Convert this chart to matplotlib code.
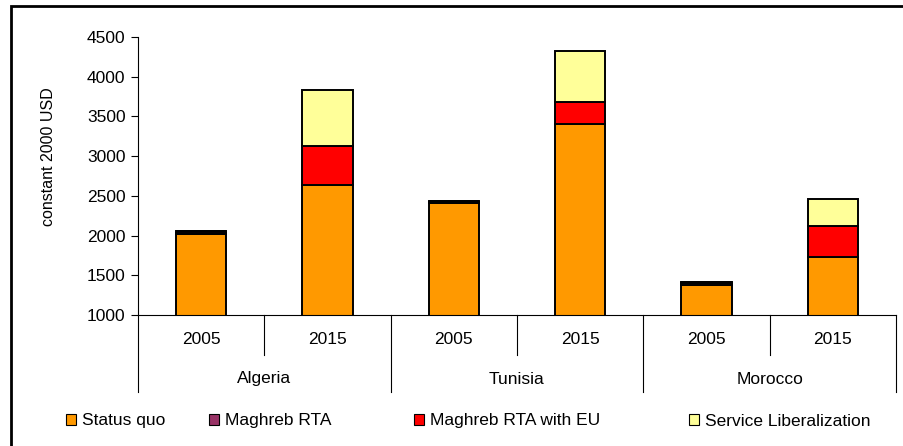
import matplotlib.pyplot as plt
import matplotlib.transforms as mtransforms
from matplotlib.patches import Rectangle, Patch
import numpy as np

plt.rcParams['font.family'] = ['Liberation Sans', 'DejaVu Sans']

countries = ['Algeria', 'Tunisia', 'Morocco']
years = ['2005', '2015', '2005', '2015', '2005', '2015']
series = ['Status quo', 'Maghreb RTA', 'Maghreb RTA with EU', 'Service Liberalization']
status_quo = [2020, 2640, 2410, 3400, 1375, 1735]
maghreb_rta = [10, 0, 15, 0, 25, 0]
rta_with_eu = [30, 485, 10, 280, 20, 385]
service_lib = [0, 705, 0, 645, 0, 345]
colors = ['#FF9900', '#993366', '#FF0000', '#FFFF99']

fig = plt.figure(figsize=(9.04, 4.46), dpi=100)
W, H = 904, 446
ax = fig.add_axes([138 / W, 1 - 315 / H, (896 - 138) / W, (315 - 37) / H])

x = np.arange(len(years))
bottom = np.zeros(len(years))
for vals, col, name in zip([status_quo, maghreb_rta, rta_with_eu, service_lib], colors, series):
    ax.bar(x, vals, bottom=bottom + 0, width=0.4, color=col, edgecolor='black',
           linewidth=1.4, label=name)
    bottom += np.array(vals)

fs = 12.5
ax.set_xlim(-0.5, len(years) - 0.5)
ax.set_ylim(1000, 4500)
ax.set_yticks(np.arange(1000, 4501, 500))
ax.tick_params(axis='y', labelsize=fs, length=5, width=0.8, direction='out', pad=4)
ax.set_xticks([])
ax.spines['top'].set_visible(False)
ax.spines['right'].set_visible(False)
ax.spines['left'].set_linewidth(0.8)
ax.spines['bottom'].set_linewidth(0.8)
ax.set_ylabel('constant 2000 USD', fontsize=11.5)
ax.yaxis.set_label_coords(-82 / (896 - 138), 0.57)

# category axis: years and countries
trans = mtransforms.blended_transform_factory(ax.transData, fig.transFigure)
y_axis = 1 - 315 / H
y_short = 1 - 355 / H
y_long = 1 - 392 / H
for b in np.arange(0.5, len(years) - 1, 2):
    ax.plot([b, b], [y_axis, y_short], transform=trans, color='black', lw=0.8, clip_on=False)
for b in np.arange(-0.5, len(years), 2):
    ax.plot([b, b], [y_axis, y_long], transform=trans, color='black', lw=0.8, clip_on=False)
for i, yr in enumerate(years):
    ax.text(i, 1 - 340 / H, yr, transform=trans, ha='center', va='center', fontsize=fs)
for j, c in enumerate(countries):
    ax.text(2 * j + 0.5, 1 - 379 / H, c, transform=trans, ha='center', va='center', fontsize=fs)

# legend, one entry per position
legend_x = [66, 209, 414, 689]
for name, col, lx in zip(series, colors, legend_x):
    leg = fig.legend([Patch(facecolor=col, edgecolor='black', linewidth=0.8)], [name],
                     loc='center left', bbox_to_anchor=(lx / W, 1 - 421 / H),
                     frameon=False, fontsize=fs, handlelength=0.6, handleheight=0.6,
                     handletextpad=0.35, borderpad=0, borderaxespad=0)

# outer frame
fig.patches.append(Rectangle((11 / W, -0.1), 1.2, 1 - 6 / H + 0.1, transform=fig.transFigure,
                             fill=False, edgecolor='black', linewidth=2))

fig.savefig('out.png', dpi=100)
